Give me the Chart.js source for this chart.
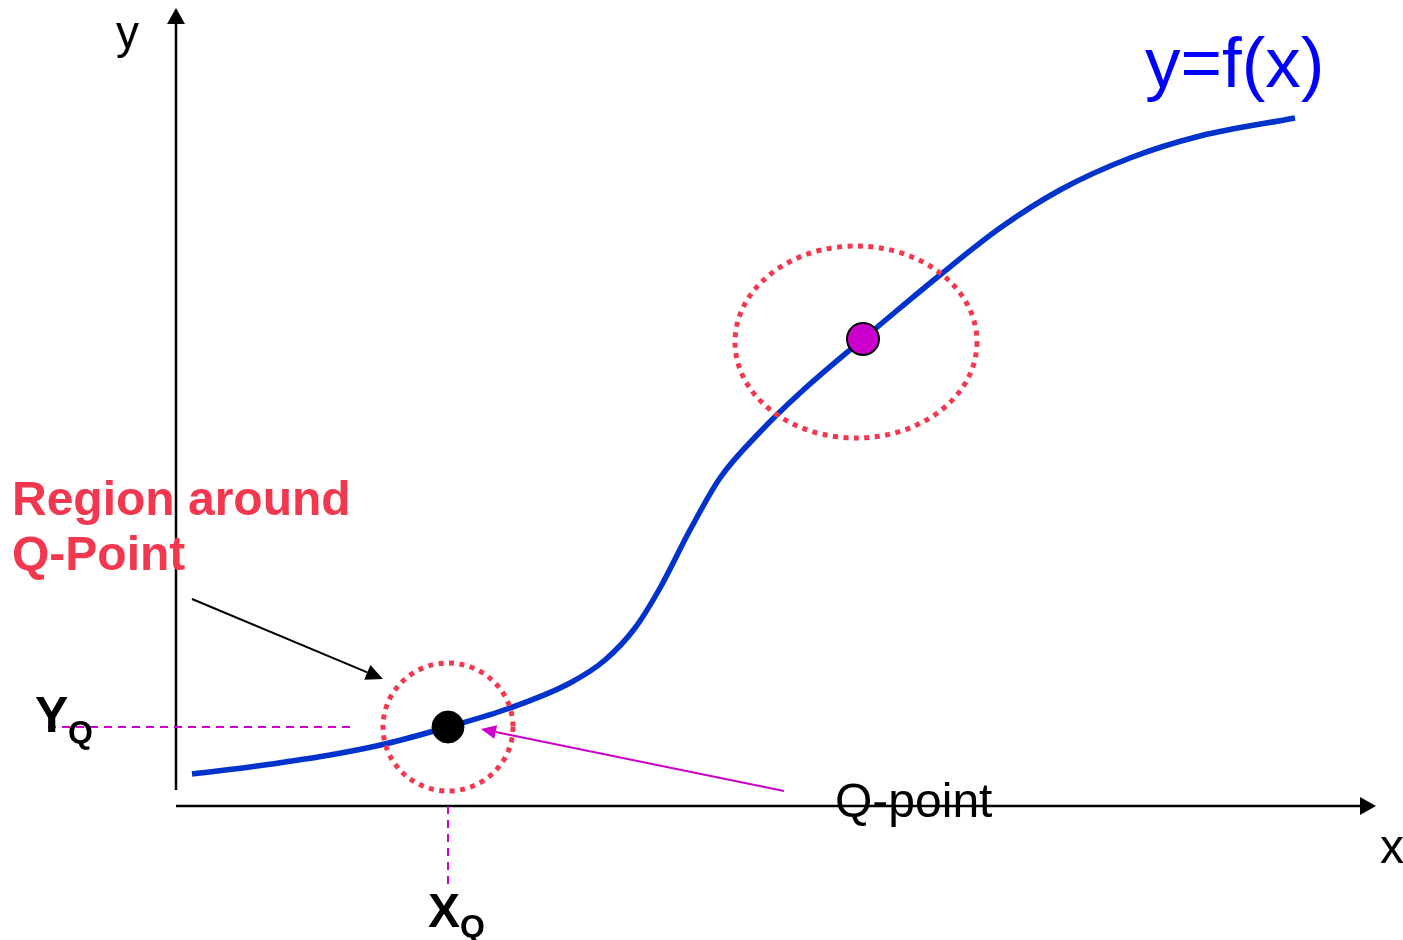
<!DOCTYPE html>
<html>
<head>
<meta charset="utf-8">
<script src="https://cdn.jsdelivr.net/npm/chart.js@4.4.1/dist/chart.umd.min.js"></script>
<style>
  body { margin: 0; background: #fff; }
  #wrap { width: 1403px; height: 940px; }
</style>
</head>
<body>
<div id="wrap"><canvas id="curve-chart"></canvas></div>
<script>
// curve y=f(x) (1 unit ~ 100px, origin at axis corner)
var curveX = [0.16, 0.74, 1.54, 2.09, 2.72, 3.34, 3.94, 4.29, 4.59, 4.84, 5.14, 5.44, 5.84, 6.24, 6.87, 7.24, 7.64, 8.24, 8.84, 9.54, 10.24, 11.19];
var curveY = [0.32, 0.39, 0.51, 0.62, 0.79, 0.98, 1.23, 1.46, 1.78, 2.18, 2.76, 3.28, 3.74, 4.13, 4.67, 4.98, 5.31, 5.78, 6.16, 6.48, 6.70, 6.88];
var qPoint = [2.72, 0.79];
var otherPoint = [6.87, 4.67];

var curve = curveX.map(function (x, i) { return { x: x, y: curveY[i] }; });

var RED = '#f2374f';
var MAGENTA = '#cc00cc';

// extra drawing: axes with arrows, dotted regions, guides, labels
var sketch = {
    id: 'sketch',
    beforeDatasetsDraw: function (chart) {
        var ctx = chart.ctx, sx = chart.scales.x, sy = chart.scales.y;
        var X = function (v) { return sx.getPixelForValue(v); };
        var Y = function (v) { return sy.getPixelForValue(v); };
        ctx.save();
        // axes
        ctx.strokeStyle = '#000';
        ctx.fillStyle = '#000';
        ctx.lineWidth = 2.5;
        arrow(ctx, X(0), Y(0.16), X(0), Y(7.98), 16, 9);
        arrow(ctx, X(0), Y(0), X(12.0), Y(0), 16, 9);
        // dashed guides to Q
        ctx.strokeStyle = MAGENTA;
        ctx.lineWidth = 2;
        ctx.setLineDash([8, 6]);
        ctx.beginPath();
        ctx.moveTo(X(-1.28), Y(qPoint[1]));
        ctx.lineTo(X(1.76), Y(qPoint[1]));
        ctx.moveTo(X(qPoint[0]), Y(0));
        ctx.lineTo(X(qPoint[0]), Y(-0.79));
        ctx.stroke();
        ctx.restore();
    },
    afterDatasetsDraw: function (chart) {
        var ctx = chart.ctx, sx = chart.scales.x, sy = chart.scales.y;
        var X = function (v) { return sx.getPixelForValue(v); };
        var Y = function (v) { return sy.getPixelForValue(v); };
        ctx.save();
        // dotted regions
        ctx.strokeStyle = RED;
        ctx.lineWidth = 5;
        ctx.setLineDash([5, 5.5]);
        [[2.72, 0.79, 0.65, 0.64], [6.80, 4.64, 1.21, 0.96]].forEach(function (e) {
            ctx.beginPath();
            ctx.ellipse(X(e[0]), Y(e[1]), X(e[0] + e[2]) - X(e[0]), Y(e[1]) - Y(e[1] + e[3]), 0, 0, Math.PI * 2);
            ctx.stroke();
        });
        ctx.setLineDash([]);
        // pointer arrows
        ctx.strokeStyle = '#000';
        ctx.fillStyle = '#000';
        ctx.lineWidth = 2;
        arrow(ctx, X(0.16), Y(2.07), X(2.07), Y(1.27), 17, 8);
        ctx.strokeStyle = MAGENTA;
        ctx.fillStyle = MAGENTA;
        ctx.lineWidth = 2;
        arrow(ctx, X(6.08), Y(0.15), X(3.05), Y(0.77), 15, 7);

        // labels
        ctx.textBaseline = 'alphabetic';
        ctx.textAlign = 'left';
        label(ctx, 'y', X(-0.60), Y(7.58), '46px "Liberation Sans"', '#000');
        label(ctx, 'x', X(12.04), Y(-0.57), '48px "Liberation Sans"', '#000');
        label(ctx, 'y=f(x)', X(9.69), Y(7.19), '71px "Liberation Sans"', '#0000ff');
        label(ctx, 'Region around', X(-1.64), Y(2.91), 'bold 48px "Liberation Sans"', RED);
        label(ctx, 'Q-Point', X(-1.64), Y(2.36), 'bold 48px "Liberation Sans"', RED);
        label(ctx, 'Q-point', X(6.59), Y(-0.11), '48px "Liberation Sans"', '#000');
        label(ctx, 'Y', X(-1.41), Y(0.74), 'bold 50px "Liberation Sans"', '#000');
        label(ctx, 'Q', X(-1.08), Y(0.63), 'bold 32px "Liberation Sans"', '#000');
        label(ctx, 'X', X(2.52), Y(-1.21), 'bold 48px "Liberation Sans"', '#000');
        label(ctx, 'Q', X(2.84), Y(-1.31), 'bold 32px "Liberation Sans"', '#000');
        ctx.restore();
    }
};

function label(ctx, txt, x, y, font, color) {
    ctx.font = font;
    ctx.fillStyle = color;
    ctx.fillText(txt, x, y);
}

function arrow(ctx, x1, y1, x2, y2, len, half) {
    var a = Math.atan2(y2 - y1, x2 - x1);
    var bx = x2 - len * Math.cos(a), by = y2 - len * Math.sin(a);
    ctx.beginPath();
    ctx.moveTo(x1, y1);
    ctx.lineTo(bx, by);
    ctx.stroke();
    ctx.beginPath();
    ctx.moveTo(x2, y2);
    ctx.lineTo(bx + half * Math.sin(a), by - half * Math.cos(a));
    ctx.lineTo(bx - half * Math.sin(a), by + half * Math.cos(a));
    ctx.closePath();
    ctx.fill();
}

new Chart(document.getElementById('curve-chart').getContext('2d'), {
    type: 'scatter',
    data: {
        datasets: [{
            label: 'y=f(x)',
            data: curve,
            showLine: true,
            borderColor: '#0033cc',
            borderWidth: 5.5,
            pointRadius: 0,
            cubicInterpolationMode: 'monotone',
            order: 3
        }, {
            label: 'Q',
            data: [{ x: qPoint[0], y: qPoint[1] }],
            pointRadius: 16,
            backgroundColor: '#000',
            borderColor: '#000',
            borderWidth: 1,
            order: 1
        }, {
            label: 'P',
            data: [{ x: otherPoint[0], y: otherPoint[1] }],
            pointRadius: 16,
            backgroundColor: MAGENTA,
            borderColor: '#000',
            borderWidth: 2,
            order: 2
        }]
    },
    options: {
        responsive: true,
        maintainAspectRatio: false,
        animation: false,
        events: [],
        layout: { padding: 0, autoPadding: false },
        plugins: { legend: { display: false }, tooltip: { enabled: false } },
        scales: {
            x: { type: 'linear', display: false, min: -1.76, max: 12.27 },
            y: { type: 'linear', display: false, min: -1.34, max: 8.06 }
        }
    },
    plugins: [sketch]
});
</script>
</body>
</html>
